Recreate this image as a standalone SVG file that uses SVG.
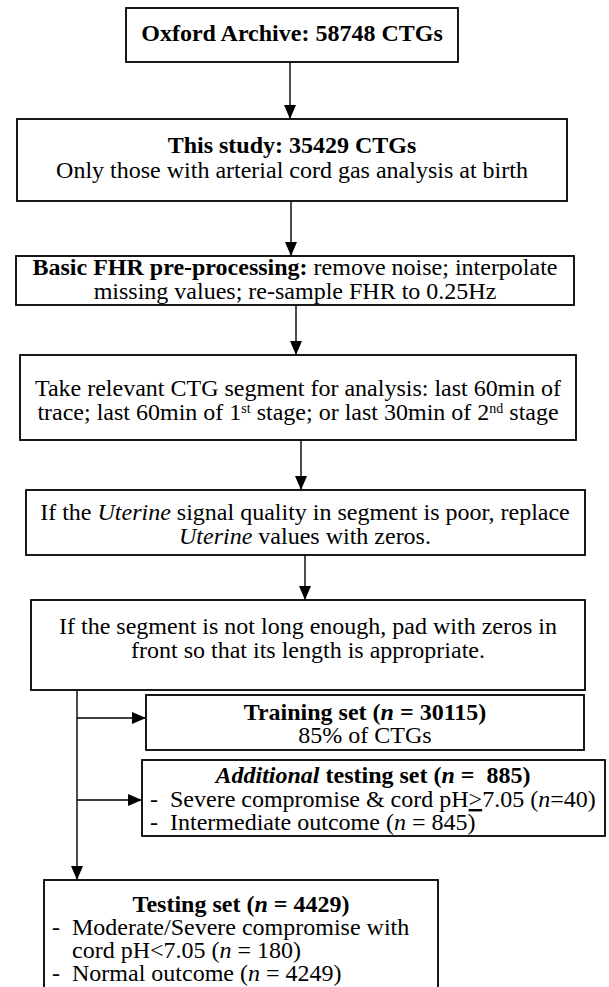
<svg xmlns="http://www.w3.org/2000/svg" width="609" height="987" viewBox="0 0 609 987">
<style>
rect{fill:#fff;stroke:#000;stroke-width:1.8}
text{font-family:"Liberation Serif","Times New Roman",serif;font-size:24px;fill:#000}
.c{text-anchor:middle}
.b{font-weight:bold}
.i{font-style:italic}
.con line{stroke:#000;stroke-width:1.4;fill:none}
.u{text-decoration:underline}
.sup{font-size:14px}
</style>
<defs>
<marker id="ah" markerWidth="14" markerHeight="12" viewBox="0 0 14 12" refX="14" refY="6" orient="auto" markerUnits="userSpaceOnUse">
<path d="M0,0 L14,6 L0,12 Z" fill="#000"/>
</marker>
</defs>
<g class="con">
<line x1="290" y1="62" x2="290" y2="119" marker-end="url(#ah)"/>
<line x1="291" y1="201" x2="291" y2="256" marker-end="url(#ah)"/>
<line x1="296" y1="305" x2="296" y2="355" marker-end="url(#ah)"/>
<line x1="301" y1="440" x2="301" y2="490" marker-end="url(#ah)"/>
<line x1="305" y1="555" x2="305" y2="600" marker-end="url(#ah)"/>
<line x1="77" y1="690" x2="77" y2="880" marker-end="url(#ah)"/>
<line x1="77" y1="718" x2="146" y2="718" marker-end="url(#ah)"/>
<line x1="77" y1="800" x2="142" y2="800" marker-end="url(#ah)"/>
</g>
<g id="oxford">
<rect x="126" y="8" width="332" height="54"/>
<text class="c b" x="292" y="41">Oxford Archive: 58748 CTGs</text>
</g>
<g id="study">
<rect x="17" y="119" width="550" height="82"/>
<text class="c b" x="292" y="153">This study: 35429 CTGs</text>
<text class="c" x="292" y="178">Only those with arterial cord gas analysis at birth</text>
</g>
<g id="preproc">
<rect x="16" y="256" width="558" height="49"/>
<text class="c" x="295" y="275"><tspan class="b">Basic FHR pre-processing:</tspan> remove noise; interpolate</text>
<text class="c" x="295" y="299">missing values; re-sample FHR to 0.25Hz</text>
</g>
<g id="segment">
<rect x="20" y="355" width="556" height="85"/>
<text class="c" x="298" y="396">Take relevant CTG segment for analysis: last 60min of</text>
<text class="c" x="298" y="420">trace; last 60min of 1<tspan class="sup" dy="-7">st</tspan><tspan dy="7"> stage; or last 30min of 2</tspan><tspan class="sup" dy="-7">nd</tspan><tspan dy="7"> stage</tspan></text>
</g>
<g id="uterine">
<rect x="26" y="490" width="559" height="65"/>
<text class="c" x="305" y="520">If the <tspan class="i">Uterine</tspan> signal quality in segment is poor, replace</text>
<text class="c" x="305" y="544"><tspan class="i">Uterine</tspan> values with zeros.</text>
</g>
<g id="pad">
<rect x="31" y="600" width="554" height="90"/>
<text class="c" x="308" y="634">If the segment is not long enough, pad with zeros in</text>
<text class="c" x="308" y="658">front so that its length is appropriate.</text>
</g>
<g id="training">
<rect x="146" y="695" width="438" height="55"/>
<text class="c b" x="365" y="720">Training set (<tspan class="i">n</tspan> = 30115)</text>
<text class="c" x="365" y="743">85% of CTGs</text>
</g>
<g id="additional">
<rect x="142" y="760" width="463" height="76"/>
<text class="c b" x="373" y="783"><tspan class="i">Additional</tspan> testing set (<tspan class="i">n</tspan> =&#160; 885)</text>
<text x="150" y="807">-</text>
<text x="170" y="807">Severe compromise &amp; cord pH<tspan class="u">&gt;</tspan>7.05 (<tspan class="i">n</tspan>=40)</text>
<text x="150" y="830">-</text>
<text x="170" y="830">Intermediate outcome (<tspan class="i">n</tspan> = 845)</text>
</g>
<g id="testing">
<rect x="44" y="880" width="394" height="120"/>
<text class="c b" x="241" y="912">Testing set (<tspan class="i">n</tspan> = 4429)</text>
<text x="52" y="935">-</text>
<text x="72" y="935">Moderate/Severe compromise with</text>
<text x="72" y="958">cord pH&lt;7.05 (<tspan class="i">n</tspan> = 180)</text>
<text x="52" y="981">-</text>
<text x="72" y="981">Normal outcome (<tspan class="i">n</tspan> = 4249)</text>
</g>
</svg>
